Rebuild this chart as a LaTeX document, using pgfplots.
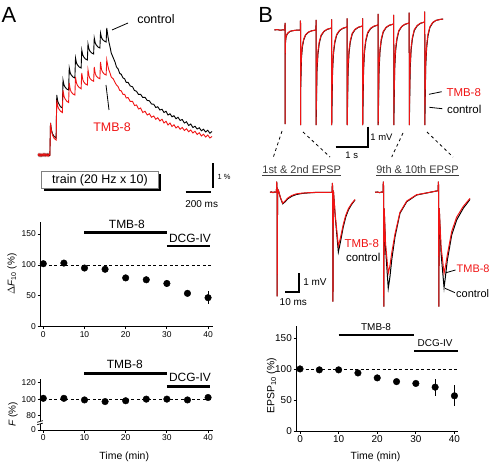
\documentclass[border=0pt]{standalone}
\usepackage{fontspec}
\setmainfont{Liberation Sans}
\usepackage{pgfplots}
\pgfplotsset{compat=1.18}
\definecolor{tred}{RGB}{240,20,20}
\definecolor{dgray}{RGB}{60,60,60}
\pgfplotsset{
  trace/.style={hide axis, scale only axis, clip=false, anchor=south west},
  summ/.style={scale only axis, clip=false, anchor=south west,
    axis lines*=left, axis line style={line width=0.8bp},
    tick align=outside, major tick length=2.5bp, tick style={line width=0.8bp, black},
    /pgf/number format/assume math mode=true,
    yticklabel style={inner xsep=1.5bp},
    xticklabel style={inner ysep=2bp},
    xtick={0,10,20,30,40}},
  pts/.style={black, only marks, mark=*, mark size=3.3bp, mark options={solid, fill=black, draw=black},
    error bars/.cd, y dir=both, y explicit, error mark=none,
    error bar style={line width=0.9bp, black}},
}
\begin{document}
\begin{tikzpicture}[x=1bp,y=-1bp]
\path[use as bounding box] (0,0) rectangle (492,462);

% ---------------- Panel A trace ----------------
\begin{axis}[trace, at={(37.5bp,-167.5bp)}, width=175bp, height=150bp,
  xmin=-100, xmax=1300, ymin=-0.5, ymax=5.5]
\addplot[black, line width=0.9bp] coordinates {
(-96,0.05)(-88,-0.04)(-80,0.04)(-72,-0.05)(-64,0.03)(-56,-0.04)(-48,0.05)(-40,-0.04)(-32,0.04)(-24,-0.03)(-16,0.05)(-8,-0.04)(-1,0)
(4,1.28)(12,1.0)(20,0.85)(34,0.74)(49,0.68)
(54,2.4)(62,2.15)(70,2.05)(84,1.93)(99,1.88)
(104,3.0)(112,2.8)(120,2.72)(134,2.64)(149,2.6)
(154,3.48)(162,3.28)(170,3.2)(184,3.12)(199,3.08)
(204,3.88)(212,3.68)(220,3.6)(234,3.52)(249,3.48)
(254,4.2)(262,4.0)(270,3.92)(284,3.84)(299,3.8)
(304,4.44)(312,4.23)(320,4.15)(334,4.08)(349,4.04)
(354,4.68)(362,4.48)(370,4.4)(384,4.32)(399,4.28)
(404,4.88)(412,4.7)(420,4.62)(434,4.56)(449,4.52)
(454,5.08)(462,4.80)(470,4.55)(480,4.33)(490,4.08)(505,3.90)(520,3.72)(532,3.52)(545,3.44)(558,3.26)
(570,3.23)(584,3.08)(597,3.05)(610,2.90)(624,2.91)(642,2.76)(660,2.73)(676,2.58)(692,2.55)(708,2.42)
(725,2.43)(742,2.30)(760,2.31)(778,2.18)(795,2.17)(812,2.04)(830,2.03)(846,1.90)(862,1.93)(879,1.80)
(896,1.83)(912,1.70)(928,1.75)(944,1.60)(960,1.65)(976,1.53)(992,1.57)(1008,1.45)(1024,1.51)(1041,1.38)
(1058,1.42)(1075,1.28)(1092,1.33)(1109,1.18)(1126,1.24)(1143,1.10)(1160,1.15)(1177,1.04)(1194,1.09)(1211,0.97)
(1228,1.03)(1245,0.92)(1262,0.99)(1279,0.87)(1296,0.94)};
\addplot[tred, line width=0.9bp] coordinates {
(-96,-0.03)(-88,0.05)(-80,-0.05)(-72,0.04)(-64,-0.04)(-56,0.05)(-48,-0.03)(-40,0.05)(-32,-0.04)(-24,0.04)(-16,-0.05)(-8,0.03)(-1,0)
(4,1.28)(12,0.95)(20,0.8)(34,0.66)(49,0.6)
(54,2.2)(62,1.95)(70,1.85)(84,1.75)(99,1.7)
(104,2.6)(112,2.35)(120,2.25)(134,2.15)(149,2.1)
(154,2.88)(162,2.62)(170,2.52)(184,2.44)(199,2.4)
(204,3.12)(212,2.88)(220,2.78)(234,2.7)(249,2.65)
(254,3.28)(262,3.02)(270,2.92)(284,2.84)(299,2.8)
(304,3.4)(312,3.16)(320,3.06)(334,2.99)(349,2.95)
(354,3.52)(362,3.26)(370,3.16)(384,3.09)(399,3.05)
(404,3.72)(412,3.42)(420,3.32)(434,3.24)(449,3.2)
(454,3.80)(462,3.58)(470,3.42)(480,3.28)(490,3.12)(505,3.05)(520,2.90)(532,2.80)(545,2.73)(558,2.58)
(570,2.57)(584,2.42)(597,2.43)(610,2.28)(624,2.30)(642,2.14)(660,2.15)(676,1.98)(692,2.00)(708,1.84)
(725,1.88)(742,1.70)(760,1.75)(778,1.60)(795,1.65)(812,1.51)(830,1.56)(846,1.43)(862,1.49)(879,1.36)
(896,1.43)(912,1.28)(928,1.35)(944,1.20)(960,1.28)(976,1.14)(992,1.21)(1008,1.08)(1024,1.15)(1041,1.03)
(1058,1.10)(1075,0.98)(1092,1.05)(1109,0.93)(1126,1.00)(1143,0.88)(1160,0.95)(1177,0.82)(1194,0.89)(1211,0.76)
(1228,0.83)(1245,0.72)(1262,0.80)(1279,0.68)(1296,0.74)};
\end{axis}

\node[font=\fontsize{22}{22}\selectfont] at (9,14.7) {A};
\node[font=\fontsize{12.5}{13}\selectfont] at (156,19.5) {control};
\draw[line width=0.8bp] (112,30) -- (128,23);
\node[font=\fontsize{12.5}{13}\selectfont, text=tred] at (112,127) {TMB-8};
\draw[line width=0.8bp] (106,85) -- (109,110);
% scale bars A
\draw[line width=2bp] (213.3,163.3) -- (213.3,188.3);
\draw[line width=2bp] (185.7,192.3) -- (210.7,192.3);
\node[font=\fontsize{7.5}{8}\selectfont] at (224,177.3) {1 \%};
\node[font=\fontsize{10}{10}\selectfont] at (201.7,204) {200 ms};
% train box
\draw[line width=2bp] (44,190.3) -- (160.3,190.3) -- (160.3,174);
\draw[fill=white, draw=gray, line width=0.6bp] (41.7,171.7) rectangle (158.3,188.3);
\node[font=\fontsize{12.5}{13}\selectfont] at (100,180) {train (20 Hz x 10)};

% ---------------- Panel A: Delta F10 ----------------
\begin{axis}[summ, at={(40bp,-326.7bp)}, width=173bp, height=105bp,
  xmin=-0.8, xmax=41.2, ymin=0, ymax=170, ytick={0,50,100,150},
  tick label style={font=\fontsize{8.5}{9}\selectfont},
  ylabel={$\Delta$\textit{F}\textsubscript{10} (\%)},
  ylabel style={at={(axis description cs:-0.162,0.5)}, anchor=center, font=\fontsize{10}{10}\selectfont}]
\draw[dashed, dash pattern=on 3bp off 2.5bp, line width=0.8bp] (axis cs:0,100) -- (axis cs:41.2,100);
\addplot[pts] coordinates {
(0,102) +- (0,2)
(5,103) +- (0,2)
(10,95) +- (0,3)
(15,93) +- (0,3)
(20,79) +- (0,4)
(25,76) +- (0,5)
(30,70) +- (0,5)
(35,54) +- (0,4)
(40,47) +- (0,10)};
\draw[line width=2.6bp] (axis cs:10,153) -- (axis cs:30,153);
\draw[line width=2.6bp] (axis cs:30,130.5) -- (axis cs:40.5,130.5);
\node[font=\fontsize{12}{12}\selectfont] at (axis cs:20.3,166) {TMB-8};
\node[font=\fontsize{12}{12}\selectfont] at (axis cs:35.6,143.5) {DCG-IV};
\end{axis}

% ---------------- Panel A: F ----------------
\begin{axis}[summ, at={(40bp,-430bp)}, width=173bp, height=50.7bp,
  xmin=-0.8, xmax=41.2, ymin=62, ymax=124.4, ytick={62,80,100,120}, yticklabels={0,80,100,120},
  tick label style={font=\fontsize{8.5}{9}\selectfont},
  xlabel={Time (min)},
  xlabel style={at={(axis description cs:0.487,-0.527)}, anchor=center, font=\fontsize{10.5}{11}\selectfont},
  ylabel={\textit{F} (\%)},
  ylabel style={at={(axis description cs:-0.156,0.31)}, anchor=center, font=\fontsize{10}{10}\selectfont}]
\draw[dashed, dash pattern=on 3bp off 2.5bp, line width=0.8bp] (axis cs:0,100) -- (axis cs:41.2,100);
\addplot[pts] coordinates {
(0,101) +- (0,2)
(5,101) +- (0,1)
(10,99) +- (0,1)
(15,97) +- (0,2)
(20,98) +- (0,1)
(25,100) +- (0,1)
(30,100) +- (0,1)
(35,99) +- (0,1)
(40,102) +- (0,2)};
\draw[line width=2.6bp] (axis cs:10,131.8) -- (axis cs:30,131.8);
\draw[line width=2.6bp] (axis cs:30,115.3) -- (axis cs:40.5,115.3);
\node[font=\fontsize{12}{12}\selectfont] at (axis cs:19.8,142.5) {TMB-8};
\node[font=\fontsize{12}{12}\selectfont] at (axis cs:35.6,127) {DCG-IV};
\draw[white, line width=2.5bp] (axis cs:-0.8,69.5) -- (axis cs:-0.8,72.5);
\draw[line width=0.7bp] (axis cs:-1.5,68.5) -- (axis cs:-0.1,70.5);
\draw[line width=0.7bp] (axis cs:-1.5,71.5) -- (axis cs:-0.1,73.5);
\end{axis}

% ---------------- Panel B long trace ----------------
\begin{axis}[trace, at={(272.2bp,-130bp)}, width=176bp, height=130bp,
  xmin=-0.4, xmax=5.1, ymin=-5, ymax=1.5]
\addplot[black, line width=1bp] coordinates {
(-0.33,0)(-0.25,0.02)(-0.15,-0.01)(-0.05,0.01)(-0.001,0)
(0,0.35)(0.004,-4.7)(0.008,-0.75)(0.03,-0.38)(0.06,-0.23)(0.1,-0.14)(0.16,-0.07)(0.25,-0.03)(0.35,-0.01)(0.483,0)
(0.484,0.47)(0.488,-4.75)(0.492,-2.8)(0.514,-1.4)(0.544,-0.84)(0.584,-0.5)(0.644,-0.25)(0.734,-0.11)(0.834,-0.04)(0.968,0)
(0.969,0.5)(0.973,-4.75)(0.977,-4.25)(0.999,-2.08)(1.029,-1.21)(1.069,-0.68)(1.129,-0.29)(1.219,-0.07)(1.319,0.03)(1.455,0.1)
(1.456,0.53)(1.46,-4.75)(1.464,-4.25)(1.486,-2.05)(1.516,-1.17)(1.556,-0.64)(1.616,-0.25)(1.706,-0.03)(1.806,0.08)(1.94,0.15)
(1.941,0.58)(1.945,-4.75)(1.949,-4.25)(1.971,-2.03)(2.001,-1.14)(2.041,-0.6)(2.101,-0.2)(2.191,0.02)(2.291,0.13)(2.424,0.2)
(2.425,0.58)(2.429,-4.75)(2.433,-4.25)(2.455,-2.0)(2.485,-1.1)(2.525,-0.56)(2.585,-0.16)(2.675,0.07)(2.775,0.18)(2.908,0.25)
(2.909,0.8)(2.913,-4.75)(2.917,-4.25)(2.939,-1.98)(2.969,-1.07)(3.009,-0.52)(3.069,-0.11)(3.159,0.12)(3.259,0.23)(3.396,0.3)
(3.397,0.75)(3.401,-4.75)(3.405,-4.25)(3.427,-1.95)(3.457,-1.03)(3.497,-0.48)(3.557,-0.06)(3.647,0.17)(3.747,0.28)(3.88,0.35)
(3.881,0.87)(3.885,-4.75)(3.889,-4.25)(3.911,-1.93)(3.941,-1.0)(3.981,-0.44)(4.041,-0.02)(4.131,0.21)(4.231,0.33)(4.365,0.4)
(4.366,0.92)(4.37,-4.75)(4.374,-4.25)(4.396,-1.85)(4.426,-0.89)(4.466,-0.31)(4.526,0.12)(4.616,0.36)(4.716,0.48)(4.85,0.53)(4.94,0.55)};
\addplot[tred, line width=1bp] coordinates {
(-0.33,0)(-0.25,0.02)(-0.15,-0.01)(-0.05,0.01)(-0.001,0)
(0,0.35)(0.004,-4.7)(0.008,-0.7)(0.03,-0.35)(0.06,-0.21)(0.1,-0.13)(0.16,-0.06)(0.25,-0.03)(0.35,-0.01)(0.483,0)
(0.484,0.47)(0.488,-4.75)(0.492,-2.5)(0.514,-1.25)(0.544,-0.75)(0.584,-0.45)(0.644,-0.23)(0.734,-0.1)(0.834,-0.04)(0.968,0)
(0.969,0.5)(0.973,-4.75)(0.977,-3.8)(0.999,-1.85)(1.029,-1.07)(1.069,-0.6)(1.129,-0.25)(1.219,-0.06)(1.319,0.04)(1.455,0.1)
(1.456,0.53)(1.46,-4.75)(1.464,-3.8)(1.486,-1.83)(1.516,-1.04)(1.556,-0.56)(1.616,-0.21)(1.706,-0.01)(1.806,0.09)(1.94,0.15)
(1.941,0.58)(1.945,-4.75)(1.949,-3.8)(1.971,-1.8)(2.001,-1.0)(2.041,-0.52)(2.101,-0.16)(2.191,0.04)(2.291,0.14)(2.424,0.2)
(2.425,0.58)(2.429,-4.75)(2.433,-3.8)(2.455,-1.78)(2.485,-0.97)(2.525,-0.48)(2.585,-0.11)(2.675,0.09)(2.775,0.19)(2.908,0.25)
(2.909,0.8)(2.913,-4.75)(2.917,-3.8)(2.939,-1.75)(2.969,-0.93)(3.009,-0.44)(3.069,-0.07)(3.159,0.14)(3.259,0.24)(3.396,0.3)
(3.397,0.75)(3.401,-4.75)(3.405,-3.8)(3.427,-1.73)(3.457,-0.9)(3.497,-0.4)(3.557,-0.02)(3.647,0.18)(3.747,0.29)(3.88,0.35)
(3.881,0.87)(3.885,-4.75)(3.889,-3.8)(3.911,-1.7)(3.941,-0.86)(3.981,-0.36)(4.041,0.02)(4.131,0.23)(4.231,0.34)(4.365,0.4)
(4.366,0.92)(4.37,-4.75)(4.374,-3.8)(4.396,-1.63)(4.426,-0.76)(4.466,-0.23)(4.526,0.16)(4.616,0.38)(4.716,0.48)(4.85,0.53)(4.94,0.55)};
\end{axis}

\node[font=\fontsize{22}{22}\selectfont] at (265.8,14.7) {B};
\draw[line width=0.8bp] (429,94.3) -- (441.7,91.7);
\node[font=\fontsize{11.5}{12}\selectfont, text=tred, anchor=west] at (443,92.5) {TMB-8};
\draw[line width=0.8bp] (429.3,107.3) -- (442.3,108.7);
\node[font=\fontsize{11.5}{12}\selectfont, anchor=west] at (443.5,109.5) {control};
\draw[line width=2bp] (367.7,126.7) -- (367.7,146.7);
\draw[line width=2bp] (335.7,146.7) -- (368.7,146.7);
\node[font=\fontsize{9.5}{10}\selectfont] at (381.5,137) {1 mV};
\node[font=\fontsize{9.5}{10}\selectfont] at (351.7,155) {1 s};
% guide lines
\draw[dash pattern=on 3bp off 3bp, line width=0.8bp] (282,131) -- (273,158);
\draw[dash pattern=on 3bp off 3bp, line width=0.8bp] (303,132) -- (330,157);
\draw[dash pattern=on 3bp off 3bp, line width=0.8bp] (403,133) -- (391.7,157);
\draw[dash pattern=on 3bp off 3bp, line width=0.8bp] (427,132) -- (453,157);
\node[font=\fontsize{11}{11}\selectfont, text=dgray] at (301.7,170.5) {\underline{1st \& 2nd EPSP}};
\node[font=\fontsize{11}{11}\selectfont, text=dgray] at (417.5,170.5) {\underline{9th \& 10th EPSP}};

% ---------------- Inset 1 ----------------
\begin{axis}[trace, at={(267.7bp,-312.3bp)}, width=93bp, height=136bp,
  xmin=-6, xmax=56, ymin=-7.5, ymax=1]
\addplot[black, line width=1bp] coordinates {
(-4.5,0)(-3.5,0.03)(-2.5,-0.02)(-1.5,0.02)(-0.2,0)(0,0.66)(0.2,0.3)(0.3,-6.5)(0.6,0.2)(1.2,0.1)(2.5,-0.35)(4,-0.72)(5.5,-0.6)(7.5,-0.4)(10,-0.25)(13,-0.14)(17,-0.07)(22,-0.03)(28,0)(36.9,0)
(37.1,0.58)(37.3,0.25)(37.5,-6.84)(37.8,0.1)(39,-1.5)(41.1,-3.73)(42.5,-3.1)(44.4,-2.15)(46,-1.55)(47.8,-1.1)(50,-0.75)(52.2,-0.48)};
\addplot[tred, line width=1bp] coordinates {
(-4.5,0)(-3.5,0.02)(-2.5,-0.02)(-1.5,0.02)(-0.2,0)(0,0.66)(0.2,0.3)(0.3,-6.5)(0.6,0.2)(1.2,0.1)(2.5,-0.33)(4,-0.68)(5.5,-0.55)(7.5,-0.35)(10,-0.2)(13,-0.1)(17,-0.05)(22,-0.02)(28,0)(36.9,0)
(37.1,0.58)(37.3,0.25)(37.5,-6.84)(37.8,0.1)(39,-1.4)(41.1,-3.36)(42.5,-2.85)(44.4,-2.0)(46,-1.45)(47.8,-1.02)(50,-0.7)(52.2,-0.45)};
\end{axis}
\node[font=\fontsize{11.5}{12}\selectfont, text=tred, anchor=west] at (341,243.5) {TMB-8};
\node[font=\fontsize{11.5}{12}\selectfont, anchor=west] at (342.5,257.5) {control};
\draw[line width=2bp] (299.3,273.3) -- (299.3,291.7);
\draw[line width=2bp] (285,291.7) -- (300.3,291.7);
\node[font=\fontsize{10}{10}\selectfont] at (315,282.5) {1 mV};
\node[font=\fontsize{10}{10}\selectfont] at (293.3,302.3) {10 ms};

% ---------------- Inset 2 ----------------
\begin{axis}[trace, at={(374.3bp,-312.3bp)}, width=99bp, height=136bp,
  xmin=-6, xmax=60, ymin=-7.5, ymax=1]
\addplot[black, line width=1bp] coordinates {
(-5.5,0)(-4,0.02)(-2.5,-0.02)(-1,0.02)(-0.2,0)(0,0.66)(0.2,0.3)(0.3,-7.15)(0.6,-1.0)(1.5,-3.5)(3.3,-6.0)(4.4,-5.3)(5.6,-4.23)(7.8,-2.78)(11.1,-1.31)(15.6,-0.59)(22.2,-0.17)(31.1,0)(36.5,0.1)
(36.7,0.66)(36.9,0.3)(37.0,-7.15)(37.3,-1.0)(38.5,-3.8)(40.5,-5.96)(41.5,-5.2)(42.7,-4.23)(45.6,-2.67)(48.9,-1.73)(53.3,-1.0)(57.8,-0.44)};
\addplot[tred, line width=1bp] coordinates {
(-5.5,0)(-4,0.02)(-2.5,-0.02)(-1,0.02)(-0.2,0)(0,0.66)(0.2,0.3)(0.3,-7.15)(0.6,-1.0)(1.5,-3.2)(3.3,-5.06)(4.4,-4.6)(5.6,-3.8)(7.8,-2.6)(11.1,-1.25)(15.6,-0.55)(22.2,-0.15)(31.1,0)(36.5,0.1)
(36.7,0.66)(36.9,0.3)(37.0,-7.15)(37.3,-1.0)(38.5,-3.4)(40.5,-5.06)(41.5,-4.6)(42.7,-3.9)(45.6,-2.45)(48.9,-1.55)(53.3,-0.88)(57.8,-0.38)};
\end{axis}
\draw[line width=0.8bp] (446,272.7) -- (455.5,270);
\node[font=\fontsize{11}{11}\selectfont, text=tred, anchor=west, inner sep=0pt] at (456.5,268.5) {TMB-8};
\draw[line width=0.8bp] (445,288.3) -- (455,292.7);
\node[font=\fontsize{11}{11}\selectfont, anchor=west, inner sep=0pt] at (456,293.5) {control};

% ---------------- Panel B: EPSP10 ----------------
\begin{axis}[summ, at={(296bp,-431bp)}, width=162.3bp, height=105bp,
  xmin=-1.04, xmax=41, ymin=0, ymax=170, ytick={0,50,100,150},
  tick label style={font=\fontsize{10}{10}\selectfont},
  xlabel={Time (min)},
  xlabel style={at={(axis description cs:0.49,-0.245)}, anchor=center, font=\fontsize{10.5}{11}\selectfont},
  ylabel={EPSP\textsubscript{10} (\%)},
  ylabel style={at={(axis description cs:-0.15,0.43)}, anchor=center, font=\fontsize{10.5}{11}\selectfont}]
\draw[dashed, dash pattern=on 3bp off 2.5bp, line width=0.8bp] (axis cs:0,100) -- (axis cs:41,100);
\addplot[pts] coordinates {
(0,100.5) +- (0,2)
(5,99) +- (0,2)
(10,99) +- (0,2)
(15,94) +- (0,3)
(20,86) +- (0,3)
(25,80) +- (0,3)
(30,77) +- (0,3)
(35,71) +- (0,14)
(40,57) +- (0,17)};
\draw[line width=2.4bp] (axis cs:10,155.4) -- (axis cs:29.6,155.4);
\draw[line width=2.4bp] (axis cs:29.6,130) -- (axis cs:40.8,130);
\node[font=\fontsize{10}{10}\selectfont] at (axis cs:19.7,169) {TMB-8};
\node[font=\fontsize{10}{10}\selectfont] at (axis cs:35,142) {DCG-IV};
\end{axis}
\end{tikzpicture}
\end{document}
